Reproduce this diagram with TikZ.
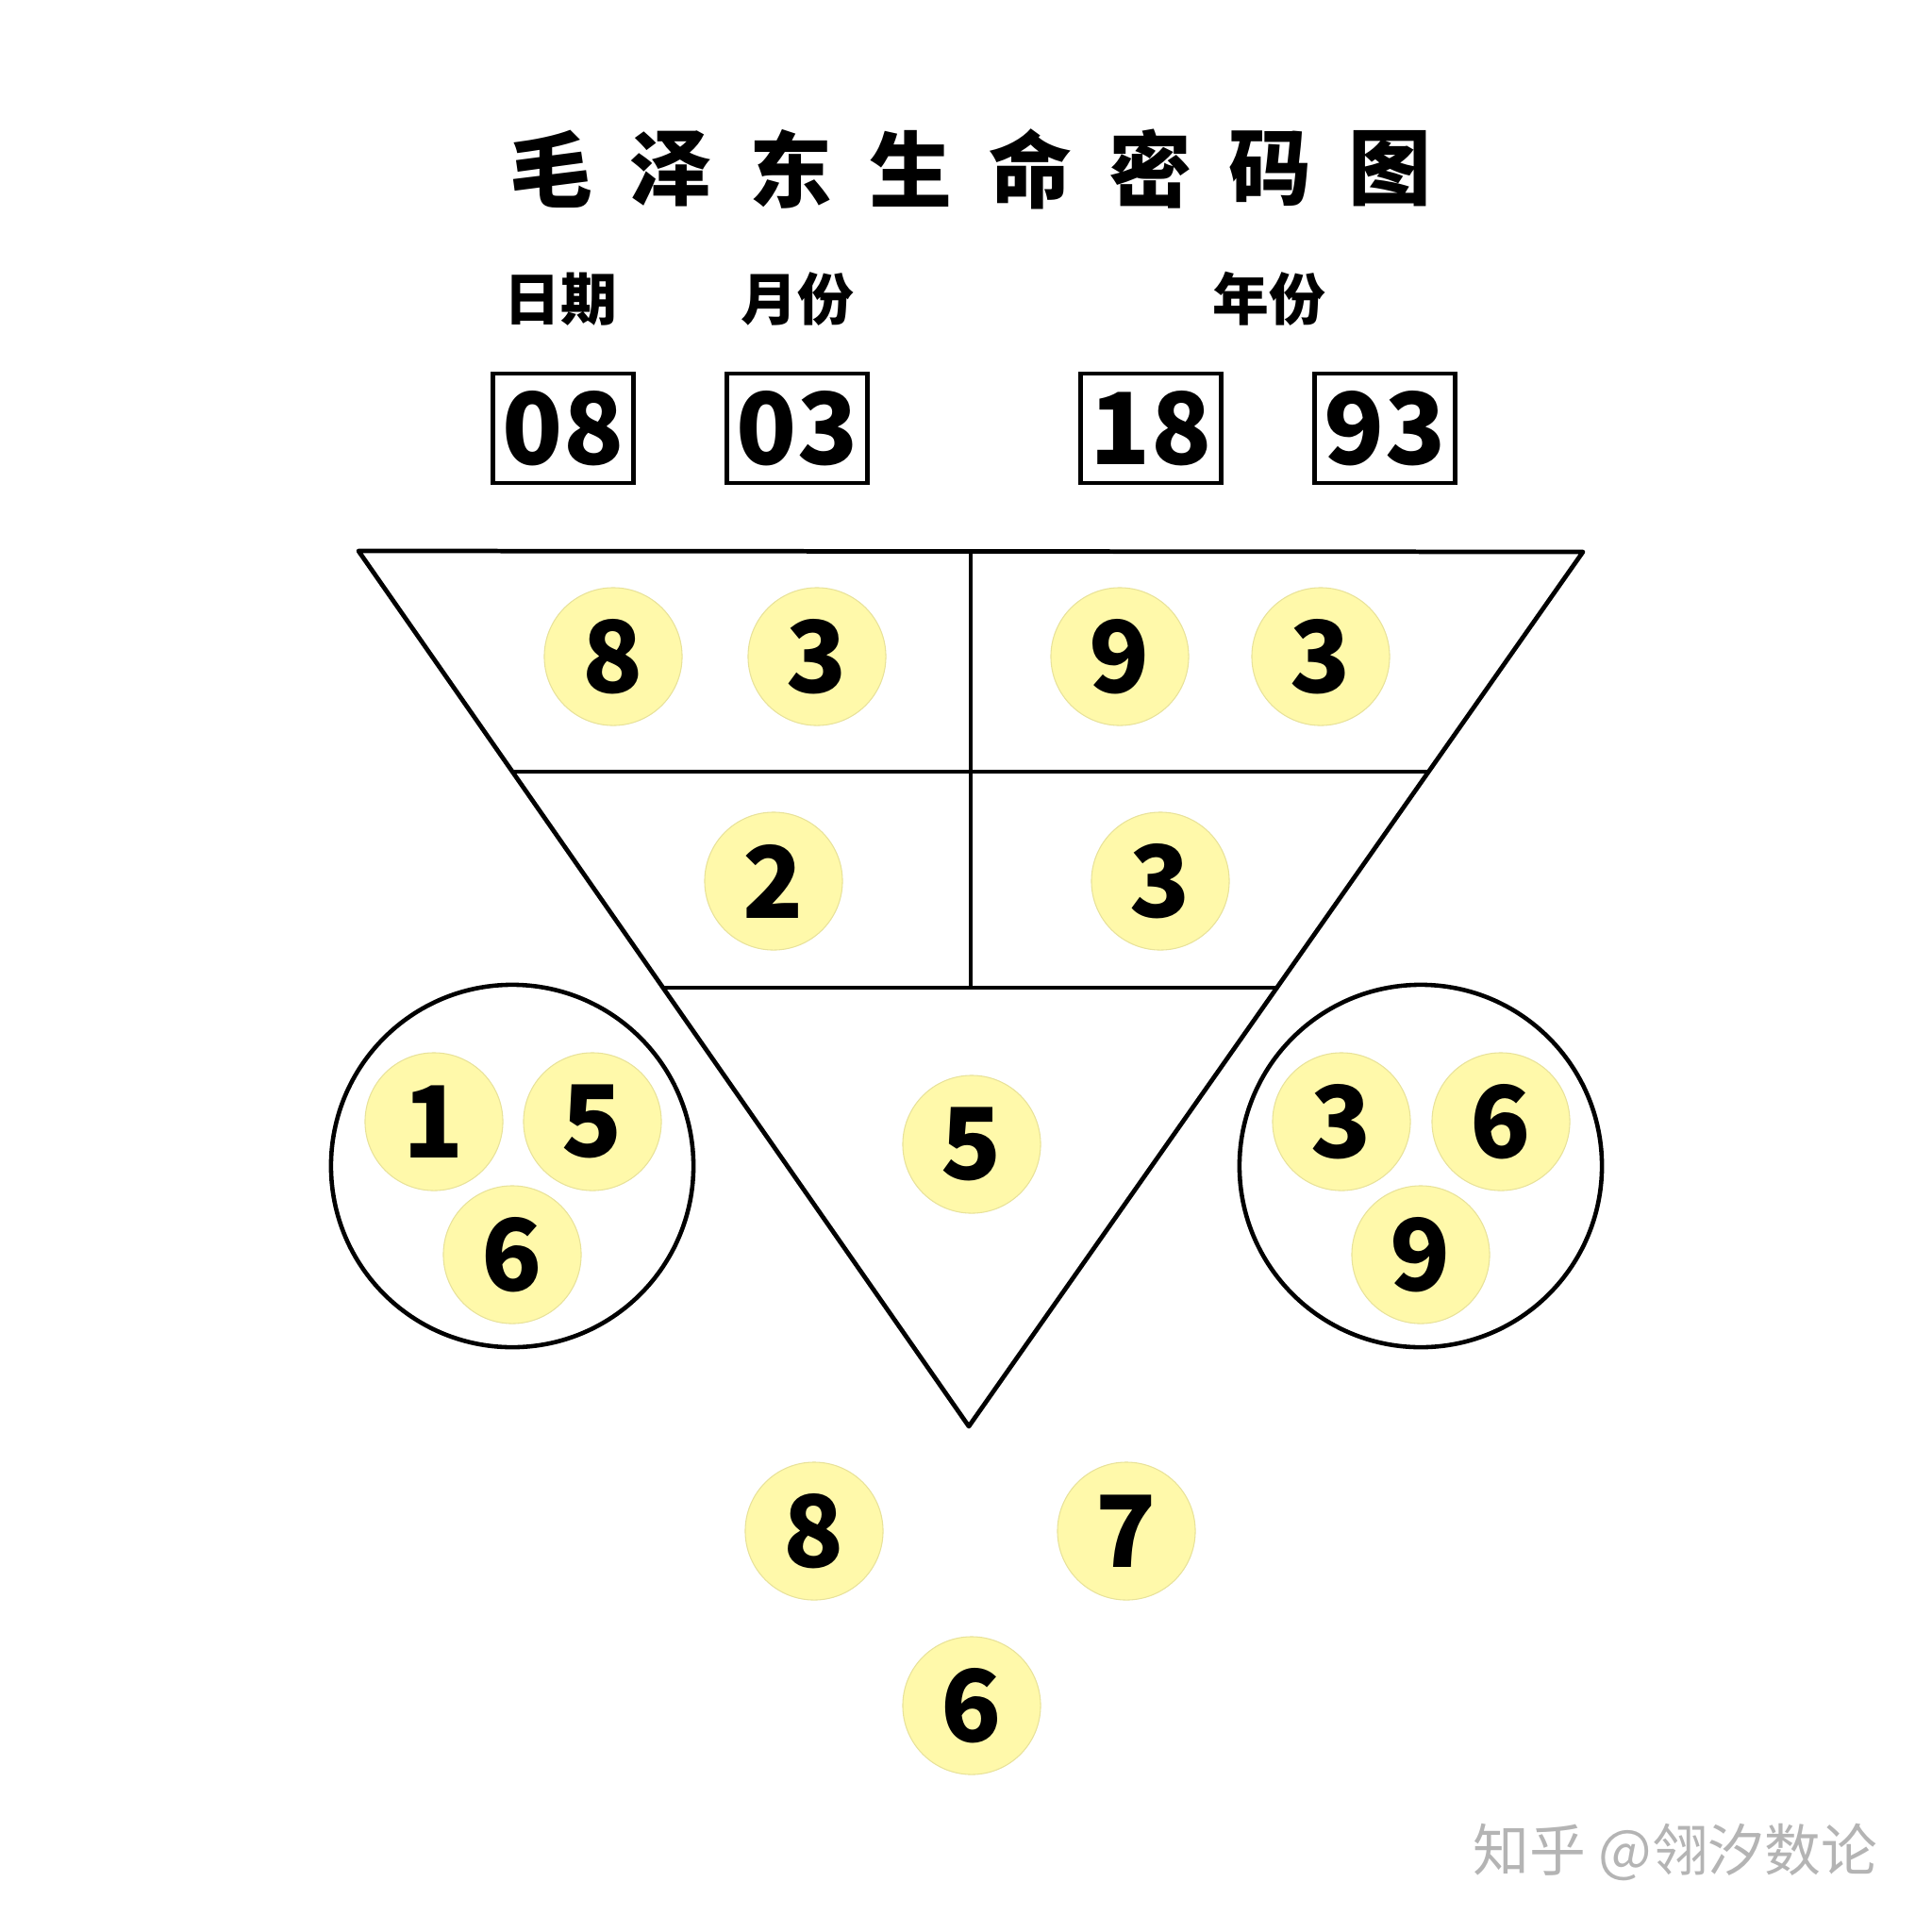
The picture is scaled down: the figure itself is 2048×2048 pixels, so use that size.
\documentclass[tikz,border=0pt]{standalone}
\usepackage{fontspec}
\setmainfont{Noto Sans CJK SC}
\usepackage{xcolor}
\definecolor{fff9aa}{HTML}{FFF9AA}
\definecolor{e8e29a}{HTML}{E8E29A}
\definecolor{b4b4b4}{HTML}{B4B4B4}
\usepackage{tikz}

\tikzset{
    ball/.style={circle, fill=fff9aa, draw=e8e29a, line width=0.3pt, minimum size=1.46cm, inner sep=0pt, font=\fontsize{30}{36}\selectfont\bfseries},
    digitbox/.style={draw, line width=1.2pt, minimum width=1.49cm, minimum height=1.16cm, inner sep=0pt, font=\fontsize{30}{36}\selectfont\bfseries},
    lbl/.style={font=\fontsize{17}{20}\selectfont\bfseries}
}

\begin{document}
\begin{tikzpicture}[x=0.01cm, y=-0.01cm]
            \useasboundingbox (0,0) rectangle (2048,2048);

            % title
            \foreach \c [count=\i from 0] in {毛,泽,东,生,命,密,码,图} {
                \node (t\i) at (584+\i*127, 179) [font=\fontsize{25}{30}\selectfont\bfseries] {\c};
            }

            \node (date) at (594, 317) [lbl] {日期};
            \node (month) at (845, 317) [lbl] {月份};
            \node (year) at (1345, 317) [lbl] {年份};

            \foreach \n/\x in {08/597, 03/845, 18/1220, 93/1468} {
                \node (b\n) at (\x, 454) [digitbox] {\n};
            }

            % triangle
            \coordinate (tl) at (380, 584);
            \coordinate (tr) at (1678, 585);
            \coordinate (apex) at (1027, 1512);
            \coordinate (a1) at (543, 818);
            \coordinate (a2) at (1514, 818);
            \coordinate (c1) at (703, 1047);
            \coordinate (c2) at (1354, 1047);
            \coordinate (vtop) at (1029, 585);
            \coordinate (vbot) at (1029, 1047);

            \draw[line width=1.35pt, line join=round] (tl) -- (tr) -- (apex) -- cycle;
            \draw[line width=1.35pt] (a1) -- (a2);
            \draw[line width=1.35pt] (c1) -- (c2);
            \draw[line width=1.35pt] (vtop) -- (vbot);

            % side rings
            \node (lring) at (543, 1236) [circle, draw, line width=1.3pt, minimum size=3.84cm] {};
            \node (rring) at (1506, 1236) [circle, draw, line width=1.3pt, minimum size=3.84cm] {};

            \foreach \n/\x/\y [count=\k] in {8/650/696, 3/866/696, 9/1187/696, 3/1400/696,
                    2/820/934, 3/1230/934, 5/1030/1213,
                    1/460/1189, 5/628/1189, 6/543/1330,
                    3/1422/1189, 6/1591/1189, 9/1506/1330,
                    8/863/1623, 7/1194/1623, 6/1030/1808} {
                \node (n\k) at (\x, \y) [ball] {\n};
            }

            \node (mark) at (1776, 1963) [font=\fontsize{17}{20}\selectfont, text=b4b4b4] {知乎 @翎汐数论};
        \end{tikzpicture}
\end{document}
